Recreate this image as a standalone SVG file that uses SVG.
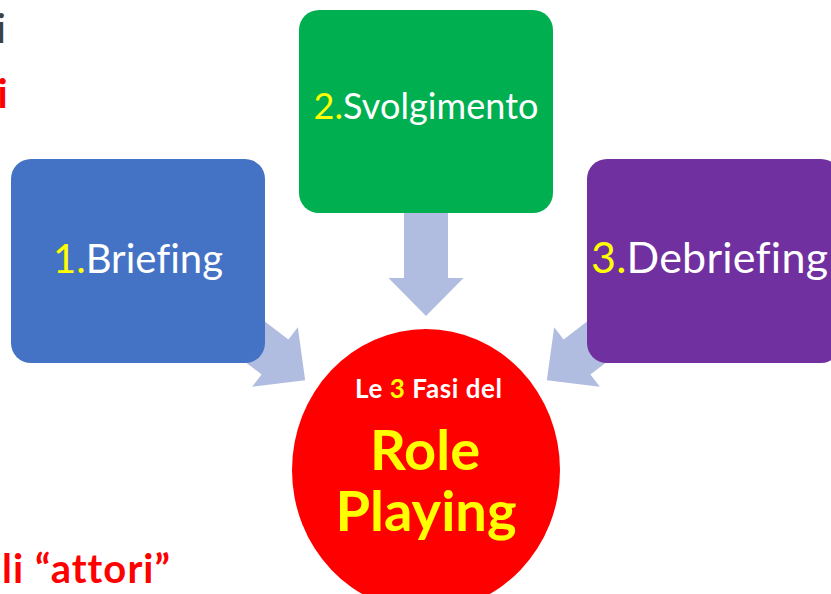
<svg xmlns="http://www.w3.org/2000/svg" width="831" height="594" viewBox="0 0 831 594">
<defs>
<style>
text{font-variant-ligatures:none}
.arrow{fill:#B0BDE0}
.lbl{font-family:Lato,"Liberation Sans",sans-serif;fill:#FFFFFF;text-anchor:middle}
.num{fill:#FFFF00}
.bold{font-family:Lato,"Liberation Sans",sans-serif;font-weight:bold;text-anchor:middle}
.side{font-family:Lato,"Liberation Sans",sans-serif;font-weight:bold;fill:#FF0000}
</style>
<path id="arr" d="M-90,-22 L0,-22 L0,-37.5 L38,0 L0,37.5 L0,22 L-90,22 Z"/>
</defs>
<rect width="831" height="594" fill="#FFFFFF"/>
<g id="background-text">
<text x="-3.5" y="43" font-family="Lato,'Liberation Sans',sans-serif" font-size="40" fill="#404040">i</text>
<text class="side" x="-2.5" y="108" font-size="40">i</text>
<text class="side" x="2" y="583" font-size="40" textLength="168">li “attori”</text>
</g>
<g id="connectors">
<use href="#arr" class="arrow" transform="translate(275,357) rotate(37.5)"/>
<use href="#arr" class="arrow" transform="translate(426,278) rotate(90)"/>
<use href="#arr" class="arrow" transform="translate(577,357) rotate(142.5)"/>
</g>
<g id="node-briefing">
<rect x="11" y="159" width="254" height="204" rx="20" fill="#4472C4"/>
<text class="lbl" x="138" y="273" font-size="40" textLength="170"><tspan class="num">1.</tspan>Briefing</text>
</g>
<g id="node-svolgimento">
<rect x="299" y="10" width="254" height="203" rx="20" fill="#00B050"/>
<text class="lbl" x="426" y="119" font-size="36" textLength="225"><tspan class="num">2.</tspan>Svolgimento</text>
</g>
<g id="node-debriefing">
<rect x="587" y="159" width="254" height="204" rx="20" fill="#7030A0"/>
<text class="lbl" x="709.5" y="273" font-size="43" textLength="237"><tspan class="num">3.</tspan>Debriefing</text>
</g>
<g id="node-center">
<ellipse cx="426" cy="470" rx="134" ry="141" fill="#FF0000"/>
<text class="bold" x="428.5" y="398" font-size="26" textLength="147" fill="#FFFFFF">Le <tspan fill="#FFFF00">3</tspan> Fasi del</text>
<text class="bold" x="425" y="470" font-size="56" fill="#FFFF00">Role</text>
<text class="bold" x="426" y="531" font-size="56" fill="#FFFF00">Playing</text>
</g>
</svg>
